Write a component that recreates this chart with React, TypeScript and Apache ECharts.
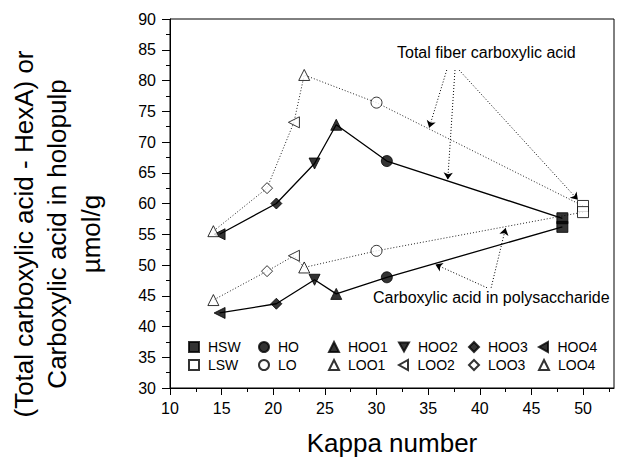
import React, { useEffect, useRef } from 'react';
import * as echarts from 'echarts';

// ---- data ----
const samplesH = ['HSW', 'HO', 'HOO1', 'HOO2', 'HOO3', 'HOO4'];
const kappaH = [48.0, 31.0, 26.1, 24.0, 20.3, 14.8];
const totalH = [57.6, 66.9, 72.8, 66.5, 60.0, 55.0];
const polyH = [56.2, 48.0, 45.3, 47.6, 43.7, 42.2];

const samplesL = ['LSW', 'LO', 'LOO1', 'LOO2', 'LOO3', 'LOO4'];
const kappaL = [50.0, 30.0, 23.0, 22.0, 19.4, 14.2];
const totalL = [59.6, 76.4, 80.9, 73.2, 62.5, 55.5];
const polyL = [58.6, 52.3, 49.6, 51.5, 49.0, 44.3];

const xTicks = [10, 15, 20, 25, 30, 35, 40, 45, 50];
const xMinorTicks = [12.5, 17.5, 22.5, 27.5, 32.5, 37.5, 42.5, 47.5, 52.5];

// annotation arrows (data coordinates: [kappa, value])
const arrowsTotal = [
  [[36.8, 81.7], [35.1, 72.3]],
  [[37.6, 81.7], [36.9, 63.9]],
  [[38.0, 81.7], [49.5, 60.6]],
];
const arrowsPoly = [
  [[40.7, 46.3], [35.7, 50.1]],
  [[41.1, 46.3], [42.5, 56.0]],
];

const downTri = 'path://M0,0 L10,0 L5,9 Z';
const leftTri = 'path://M9,0 L9,10 L0,5 Z';
const symH = ['rect', 'circle', 'triangle', downTri, 'diamond', leftTri];
const symL = ['rect', 'circle', 'triangle', leftTri, 'diamond', 'triangle'];

const FONT = 'Liberation Sans, Arial, sans-serif';

export default function App() {
  const ref = useRef<HTMLDivElement>(null);
  useEffect(() => {
    document.body.style.margin = '0';
    const chart = echarts.init(ref.current!, null, { renderer: 'svg' });

    const scatter = (names: string[], kappa: number[], total: number[], poly: number[], syms: string[], filled: boolean) =>
      names.map((n, i) => ({
        name: n,
        type: 'scatter',
        symbol: syms[i],
        symbolSize: syms[i] === 'circle' ? 11 : 11,
        itemStyle: filled
          ? { color: '#000', borderColor: '#000', borderWidth: 1 }
          : { color: '#fff', borderColor: '#000', borderWidth: 1 },
        data: [[kappa[i], total[i]], [kappa[i], poly[i]]],
        z: 5,
      }));

    const line = (kappa: number[], vals: number[], solid: boolean) => ({
      type: 'line',
      symbol: 'none',
      silent: true,
      data: kappa.map((k, i) => [k, vals[i]]),
      lineStyle: solid
        ? { color: '#000', width: 1.3, type: 'solid' }
        : { color: '#222', width: 1, type: [1, 2] },
      z: 2,
    });

    const arrows = (list: number[][][]) => ({
      type: 'lines',
      coordinateSystem: 'cartesian2d',
      silent: true,
      symbol: ['none', 'arrow'],
      symbolSize: 7,
      lineStyle: { color: '#000', width: 1, type: [1, 2], opacity: 1 },
      data: list.map((c) => ({ coords: c })),
      z: 3,
    });

    const legendCols = [188, 258, 328, 398, 468, 538];
    const legendRows = [340, 358];
    const legends: any[] = [];
    [samplesH, samplesL].forEach((row, r) => {
      row.forEach((n, c) => {
        legends.push({
          data: [n],
          left: legendCols[c],
          top: legendRows[r],
          itemWidth: 10,
          itemHeight: 10,
          itemGap: 0,
          padding: 0,
          textStyle: { fontFamily: FONT, fontSize: 14, color: '#000', padding: [0, 0, 0, 4] },
        });
      });
    });

    chart.setOption({
      animation: false,
      backgroundColor: '#fff',
      grid: {
        left: 170, top: 19, width: 444, height: 369,
        show: true, borderColor: '#000', borderWidth: 1, backgroundColor: 'transparent',
      },
      legend: legends,
      xAxis: [
        {
          type: 'value', min: 10, max: 53,
          name: 'Kappa number', nameLocation: 'middle', nameGap: 42,
          nameTextStyle: { fontFamily: FONT, fontSize: 26, color: '#000' },
          axisLine: { show: true, lineStyle: { color: '#000', width: 1 } },
          axisTick: { show: true, length: 7, lineStyle: { color: '#000' }, customValues: xTicks },
          axisLabel: { fontFamily: FONT, fontSize: 16, color: '#000', margin: 12, customValues: xTicks },
          splitLine: { show: false },
        },
        {
          type: 'value', min: 10, max: 53, position: 'bottom',
          axisLine: { show: false },
          axisTick: { show: true, length: 4, lineStyle: { color: '#000' }, customValues: xMinorTicks },
          axisLabel: { show: false },
          splitLine: { show: false },
        },
      ],
      yAxis: {
        type: 'value', min: 30, max: 90, interval: 5,
        axisLine: { show: true, lineStyle: { color: '#000', width: 1 } },
        axisTick: { show: true, length: 8, lineStyle: { color: '#000' } },
        minorTick: { show: true, splitNumber: 2, length: 4, lineStyle: { color: '#000' } },
        axisLabel: { fontFamily: FONT, fontSize: 16, color: '#000', margin: 14 },
        splitLine: { show: false },
      },
      graphic: [
        { type: 'text', x: 24, y: 234, rotation: Math.PI / 2,
          style: { text: '(Total carboxylic acid - HexA) or', font: `26px ${FONT}`, fill: '#000', textAlign: 'center', textVerticalAlign: 'middle' } },
        { type: 'text', x: 57, y: 234, rotation: Math.PI / 2,
          style: { text: 'Carboxylic acid in holopulp', font: `26px ${FONT}`, fill: '#000', textAlign: 'center', textVerticalAlign: 'middle' } },
        { type: 'text', x: 91, y: 234, rotation: Math.PI / 2,
          style: { text: 'µmol/g', font: `26px ${FONT}`, fill: '#000', textAlign: 'center', textVerticalAlign: 'middle' } },
        { type: 'text', x: 397, y: 52,
          style: { text: 'Total fiber carboxylic acid', font: `16px ${FONT}`, fill: '#000', textAlign: 'left', textVerticalAlign: 'middle' } },
        { type: 'text', x: 373, y: 297,
          style: { text: 'Carboxylic acid in polysaccharide', font: `16px ${FONT}`, fill: '#000', textAlign: 'left', textVerticalAlign: 'middle' } },
      ],
      series: [
        line(kappaH, totalH, true),
        line(kappaH, polyH, true),
        line(kappaL, totalL, false),
        line(kappaL, polyL, false),
        arrows(arrowsTotal),
        arrows(arrowsPoly),
        ...scatter(samplesH, kappaH, totalH, polyH, symH, true),
        ...scatter(samplesL, kappaL, totalL, polyL, symL, false),
      ],
    });
    return () => chart.dispose();
  }, []);
  return <div ref={ref} style={{ width: 625, height: 464 }} />;
}
